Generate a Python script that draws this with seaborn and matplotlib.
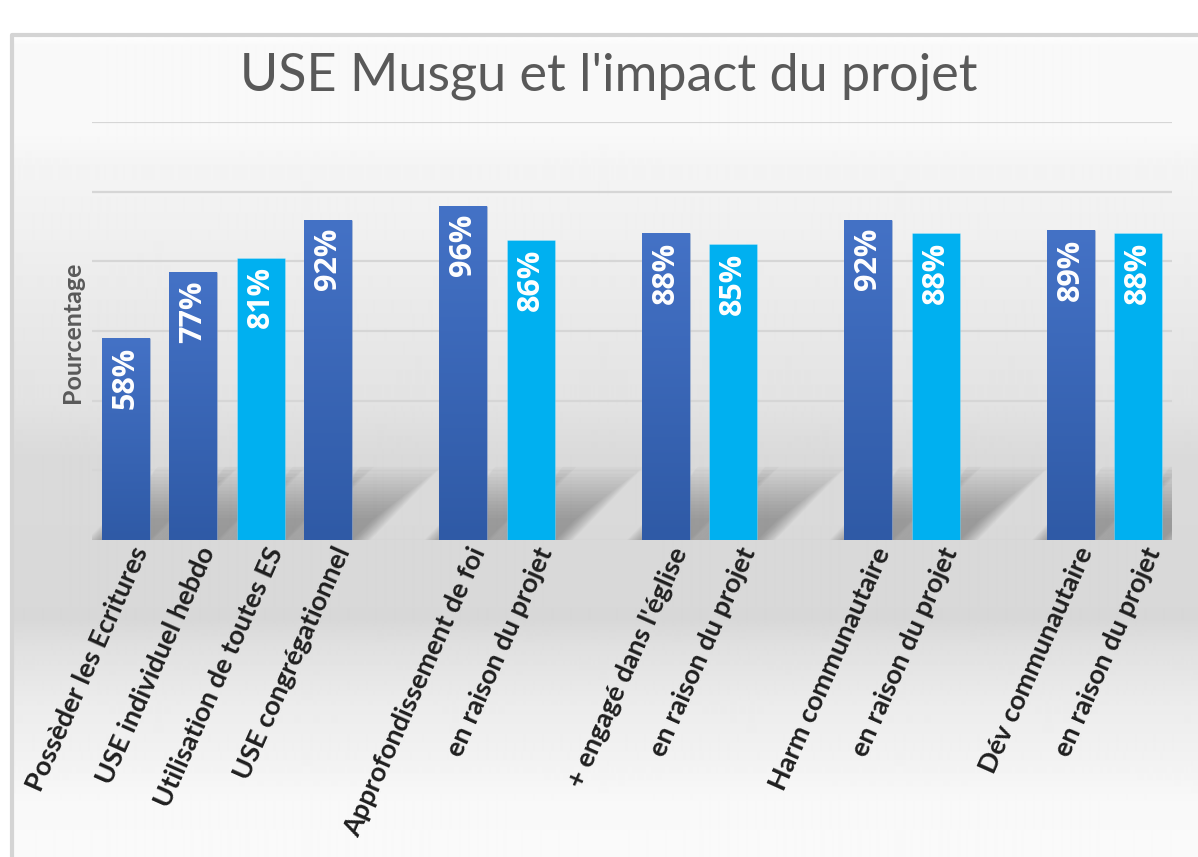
import matplotlib
matplotlib.use("Agg")
import matplotlib.pyplot as plt
from matplotlib.patches import Polygon
import numpy as np
import pandas as pd
import seaborn as sns

# ---- data -------------------------------------------------------------
labels = [
    "Possèder les Ecritures", "USE individuel hebdo", "Utilisation de toutes ES",
    "USE congrégationnel",
    "Approfondissement de foi", "en raison du projet",
    "+ engagé dans l'église", "en raison du projet",
    "Harm communautaire", "en raison du projet",
    "Dév communautaire", "en raison du projet",
]
values = [58, 77, 81, 92, 96, 86, 88, 85, 92, 88, 89, 88]
groups = [0, 0, 0, 0, 1, 1, 2, 2, 3, 3, 4, 4]
kinds = ["dark", "dark", "light", "dark", "dark", "light",
         "dark", "light", "dark", "light", "dark", "light"]

TITLE = "USE Musgu et l'impact du projet"
YLABEL = "Pourcentage"

DARK_TOP, DARK_BOT = "#4472C6", "#2F5AA6"
LIGHT = "#00B0F0"
FONT = ["Lato", "DejaVu Sans"]

# one empty slot between groups
slots = [i + g for i, g in enumerate(groups)]
n_slots = max(slots) + 1
keys = [f"s{s}" for s in slots]
order = [f"s{i}" for i in range(n_slots)]

df = pd.DataFrame({"key": keys, "value": values, "kind": kinds})

sns.set_theme(style="white")
plt.rcParams["font.family"] = FONT

W, H = 1198, 857
fig = plt.figure(figsize=(W / 100, H / 100), dpi=100)

# ---- background (chart area gradient + border) -------------------------
bg = fig.add_axes([0, 0, 1, 1], zorder=-10)
bg.set_xlim(0, W)
bg.set_ylim(H, 0)
bg.axis("off")
stops_y = [35, 45, 130, 165, 230, 300, 400, 455, 620, 645, 675, 705, 760, 800, 857]
stops_v = [255, 249, 249, 244, 240, 234, 227, 218, 216, 224, 230, 236, 242, 248, 250]
rows = np.arange(35, H)
shade = np.interp(rows, stops_y, stops_v) / 255.0
img = np.repeat(shade[:, None], 2, axis=1)
bg.imshow(img, cmap="gray", vmin=0, vmax=1, aspect="auto",
          extent=(12, W, H, 35), interpolation="bilinear")
bg.plot([12, 12, W], [H, 35, 35], color="#d4d4d4", lw=3, solid_capstyle="butt")

# ---- main axes ----------------------------------------------------------
ax = fig.add_axes([92 / W, 1 - 540 / H, 1080 / W, 418 / H])
ax.patch.set_alpha(0)

sns.barplot(data=df, x="key", y="value", hue="kind", order=order,
            hue_order=["dark", "light"], palette=[DARK_BOT, LIGHT],
            dodge=False, width=0.71, legend=False, saturation=1, ax=ax, zorder=3)

ax.set_ylim(0, 120)
ax.set_yticks(range(0, 121, 20))
ax.set_yticklabels([])
ax.yaxis.grid(True, color="#d6d6d6", lw=1.6)
ax.set_axisbelow(True)
ax.tick_params(length=0)
for sp in ax.spines.values():
    sp.set_visible(False)
ax.set_xlabel("")
ax.set_ylabel("")
ax.set_xticks(range(n_slots))
ax.set_xticklabels([])

# gradient fill for dark bars, soft diagonal shadows behind all bars
grad = np.linspace(0, 1, 256)[:, None]
cmap = matplotlib.colors.LinearSegmentedColormap.from_list("bar", [DARK_BOT, DARK_TOP])
bars = [p for p in ax.patches if p.get_height() > 0]
for p in bars:
    x0, w, h = p.get_x(), p.get_width(), p.get_height()
    dx, sh = 1.05, 21
    n = 16
    for k in range(n):
        top = sh * (0.25 + 0.75 * (k + 1) / n)
        spread = 0.018 * k
        poly = Polygon([(x0 + 0.05 - spread, 0), (x0 + w + spread, 0),
                        (x0 + w + dx * top / sh + spread, top),
                        (x0 + 0.05 + dx * top / sh - spread, top)],
                       closed=True, facecolor="#474747", alpha=0.032,
                       edgecolor="none", zorder=1.5)
        ax.add_patch(poly)
    p.set_edgecolor("#ffffff40")
    p.set_linewidth(0.6)
    if matplotlib.colors.to_hex(p.get_facecolor()) == DARK_BOT.lower():
        im = ax.imshow(grad, cmap=cmap, aspect="auto", origin="lower",
                       extent=(x0, x0 + w, 0, h), zorder=3.1)
        im.set_clip_path(p)
    ax.annotate(f"{h:.0f}%", (x0 + w / 2, h), xytext=(0, -6),
                textcoords="offset points", rotation=90, ha="center", va="top",
                color="white", fontsize=22, fontweight="bold",
                family=["Open Sans", "DejaVu Sans"], zorder=5)

ax.set_xlim(-0.5, n_slots - 0.5)
ax.set_ylim(0, 120)

# rotated category labels, anchored just right of each bar centre
for s, lab in zip(slots, labels):
    ax.annotate(lab, (s, 0), xycoords=("data", "axes fraction"),
                xytext=(11, -6), textcoords="offset points",
                rotation=66, rotation_mode="anchor", ha="right", va="center",
                fontsize=19.5, fontweight="bold", color="#1f1f1f",
                family=FONT, annotation_clip=False)

fig.text(0.508, 1 - 76 / H, TITLE, ha="center", va="center", fontsize=37.5,
         color="#595959", family=FONT)
fig.text(73 / W, 1 - 332 / H, YLABEL, rotation=90, ha="center", va="center",
         fontsize=18, fontweight="bold", color="#595959", family=FONT)

fig.savefig("out.png", dpi=100)
